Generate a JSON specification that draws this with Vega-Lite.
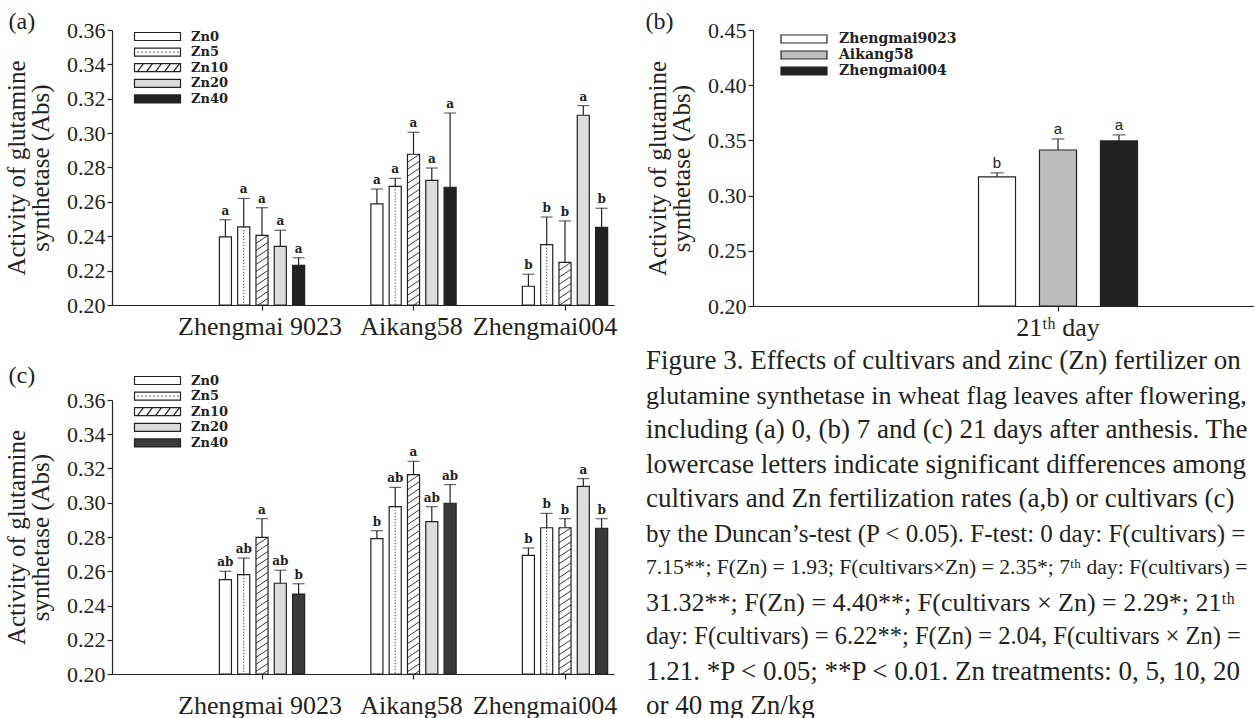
{
  "$schema": "https://vega.github.io/schema/vega-lite/v6.json",
  "background": "white",
  "padding": {"left": 4, "top": 10, "right": 0, "bottom": 0},
  "columns": 2,
  "bounds": "flush",
  "spacing": {"row": 94, "column": 139},
  "resolve": {"scale": {"fill": "independent", "x": "independent", "xOffset": "independent", "y": "independent"}, "legend": {"fill": "independent"}, "axis": {"x": "independent", "y": "independent"}},
  "datasets": {
    "a": [
      {"cultivar": "Zhengmai 9023", "zn": "Zn0", "value": 0.2396, "err": 0.2496, "sig": "a"},
      {"cultivar": "Zhengmai 9023", "zn": "Zn5", "value": 0.2455, "err": 0.262, "sig": "a"},
      {"cultivar": "Zhengmai 9023", "zn": "Zn10", "value": 0.2405, "err": 0.2566, "sig": "a"},
      {"cultivar": "Zhengmai 9023", "zn": "Zn20", "value": 0.2341, "err": 0.2435, "sig": "a"},
      {"cultivar": "Zhengmai 9023", "zn": "Zn40", "value": 0.2231, "err": 0.2275, "sig": "a"},
      {"cultivar": "Aikang58", "zn": "Zn0", "value": 0.2588, "err": 0.2675, "sig": "a"},
      {"cultivar": "Aikang58", "zn": "Zn5", "value": 0.269, "err": 0.2737, "sig": "a"},
      {"cultivar": "Aikang58", "zn": "Zn10", "value": 0.2877, "err": 0.3005, "sig": "a"},
      {"cultivar": "Aikang58", "zn": "Zn20", "value": 0.2725, "err": 0.2797, "sig": "a"},
      {"cultivar": "Aikang58", "zn": "Zn40", "value": 0.2685, "err": 0.3117, "sig": "a"},
      {"cultivar": "Zhengmai004", "zn": "Zn0", "value": 0.2109, "err": 0.2179, "sig": "b"},
      {"cultivar": "Zhengmai004", "zn": "Zn5", "value": 0.2351, "err": 0.2512, "sig": "b"},
      {"cultivar": "Zhengmai004", "zn": "Zn10", "value": 0.2248, "err": 0.2489, "sig": "b"},
      {"cultivar": "Zhengmai004", "zn": "Zn20", "value": 0.3104, "err": 0.316, "sig": "a"},
      {"cultivar": "Zhengmai004", "zn": "Zn40", "value": 0.2452, "err": 0.2563, "sig": "b"}
    ],
    "c": [
      {"cultivar": "Zhengmai 9023", "zn": "Zn0", "value": 0.2551, "err": 0.26, "sig": "ab"},
      {"cultivar": "Zhengmai 9023", "zn": "Zn5", "value": 0.258, "err": 0.2677, "sig": "ab"},
      {"cultivar": "Zhengmai 9023", "zn": "Zn10", "value": 0.2798, "err": 0.2907, "sig": "a"},
      {"cultivar": "Zhengmai 9023", "zn": "Zn20", "value": 0.253, "err": 0.2606, "sig": "ab"},
      {"cultivar": "Zhengmai 9023", "zn": "Zn40", "value": 0.2467, "err": 0.2527, "sig": "b"},
      {"cultivar": "Aikang58", "zn": "Zn0", "value": 0.279, "err": 0.2837, "sig": "b"},
      {"cultivar": "Aikang58", "zn": "Zn5", "value": 0.2977, "err": 0.309, "sig": "ab"},
      {"cultivar": "Aikang58", "zn": "Zn10", "value": 0.3164, "err": 0.3242, "sig": "a"},
      {"cultivar": "Aikang58", "zn": "Zn20", "value": 0.289, "err": 0.2977, "sig": "ab"},
      {"cultivar": "Aikang58", "zn": "Zn40", "value": 0.2997, "err": 0.3106, "sig": "ab"},
      {"cultivar": "Zhengmai004", "zn": "Zn0", "value": 0.2693, "err": 0.2736, "sig": "b"},
      {"cultivar": "Zhengmai004", "zn": "Zn5", "value": 0.2854, "err": 0.2938, "sig": "b"},
      {"cultivar": "Zhengmai004", "zn": "Zn10", "value": 0.2854, "err": 0.2907, "sig": "b"},
      {"cultivar": "Zhengmai004", "zn": "Zn20", "value": 0.3096, "err": 0.3141, "sig": "a"},
      {"cultivar": "Zhengmai004", "zn": "Zn40", "value": 0.2851, "err": 0.2907, "sig": "b"}
    ],
    "b": [
      {"day": "21ᵗʰ day", "cultivar": "Zhengmai9023", "value": 0.317, "err": 0.3206, "sig": "b"},
      {"day": "21ᵗʰ day", "cultivar": "Aikang58", "value": 0.3413, "err": 0.3513, "sig": "a"},
      {"day": "21ᵗʰ day", "cultivar": "Zhengmai004", "value": 0.3495, "err": 0.355, "sig": "a"}
    ],
    "cap": [
      {"line": 1, "text": "Figure 3. Effects of cultivars and zinc (Zn) fertilizer on"},
      {"line": 2, "text": "glutamine synthetase in wheat flag leaves after flowering,"},
      {"line": 3, "text": "including (a) 0, (b) 7 and (c) 21 days after anthesis. The"},
      {"line": 4, "text": "lowercase letters indicate significant differences among"},
      {"line": 5, "text": "cultivars and Zn fertilization rates (a,b) or cultivars (c)"},
      {"line": 6, "text": "by the Duncan’s-test (P < 0.05). F-test: 0 day: F(cultivars) ="},
      {"line": 7, "text": "7.15**; F(Zn) = 1.93; F(cultivars×Zn) = 2.35*; 7ᵗʰ day: F(cultivars) ="},
      {"line": 8, "text": "31.32**; F(Zn) = 4.40**; F(cultivars × Zn) = 2.29*; 21ᵗʰ"},
      {"line": 9, "text": "day: F(cultivars) = 6.22**; F(Zn) = 2.04, F(cultivars × Zn) ="},
      {"line": 10, "text": "1.21. *P < 0.05; **P < 0.01. Zn treatments: 0, 5, 10, 20"},
      {"line": 11, "text": "or 40 mg Zn/kg"}
    ]
  },
  "concat": [
    {
      "width": 502, "height": 275,
      "title": {"text": "(a)", "anchor": "start", "frame": "bounds", "font": "Liberation Serif", "fontSize": 24, "fontWeight": "normal", "color": "#222", "offset": -15, "dx": 4},
      "data": {"name": "a"},
      "encoding": {
        "x": {"field": "cultivar", "type": "nominal", "scale": {"domain": ["Zhengmai 9023", "Aikang58", "Zhengmai004"], "paddingInner": 0.396, "paddingOuter": 0.3548, "align": 0.9698}, "axis": {"title": null, "labelAngle": 0, "labelFontSize": 26, "labelPadding": 3, "tickSize": 5, "labelOverlap": false, "labelBound": false, "labelOffset": {"condition": {"test": "datum.value === 'Zhengmai004'", "value": -20}, "value": -2}}},
        "xOffset": {"field": "zn", "type": "nominal", "scale": {"domain": ["Zn0", "Zn5", "Zn10", "Zn20", "Zn40"], "paddingInner": 0.34, "paddingOuter": 0.17}},
        "y": {"field": "value", "type": "quantitative", "scale": {"domain": [0.2, 0.36], "nice": false, "zero": false}, "axis": {"title": ["Activity of glutamine", "synthetase (Abs)"], "titleFontSize": 25, "titleLineHeight": 24, "titlePadding": 13, "values": [0.2, 0.22, 0.24, 0.26, 0.28, 0.3, 0.32, 0.34, 0.36], "format": ".2f", "labelFontSize": 22, "tickSize": 5, "labelPadding": 2}}
      },
      "layer": [
        {"mark": {"type": "bar", "stroke": "#222", "strokeWidth": 1.2},
         "encoding": {"y2": {"datum": 0.2},
           "fill": {"field": "zn", "type": "nominal", "scale": {"domain": ["Zn0", "Zn5", "Zn10", "Zn20", "Zn40"], "range": ["#ffffff", "#ffffff", "#ffffff", "#dcdcdc", "#222222"]},
             "legend": {"title": null, "orient": "none", "legendX": 16, "legendY": 0, "symbolType": "M0,-4H46V4H0Z", "symbolSize": 4, "symbolStrokeColor": "#222", "symbolStrokeWidth": 1.2, "labelFont": "DejaVu Serif", "labelFontWeight": "bold", "labelFontSize": 13, "labelColor": "#222", "labelOffset": 50, "rowPadding": 1.6, "padding": 0,
               "encode": {"symbols": {"update": {"shape": [
                 {"test": "datum.value === 'Zn5'", "value": "M0,-4H46V4H0ZM3,0h1.2M7,0h1.2M11,0h1.2M15,0h1.2M19,0h1.2M23,0h1.2M27,0h1.2M31,0h1.2M35,0h1.2M39,0h1.2M43,0h1.2"},
                 {"test": "datum.value === 'Zn10'", "value": "M0,-4H46V4H0ZM3,4L9,-4M12,4L18,-4M21,4L27,-4M30,4L36,-4M39,4L45,-4"},
                 {"value": "M0,-4H46V4H0Z"}]}}}}}}},
        {"transform": [{"filter": "datum.zn === 'Zn5'"}], "mark": {"type": "rule", "color": "#333", "strokeWidth": 1, "strokeDash": [1.2, 1.8]}, "encoding": {"y2": {"datum": 0.2}}},
        {"transform": [{"filter": "datum.zn === 'Zn10'"}], "mark": {"type": "point", "shape": "M-6,1L-4.5,0M-6,8L6,0M-6,15L6,7M-6,22L6,14M-6,29L6,21M-6,36L6,28M-6,43L6,35M-6,50L6,42M-6,57L6,49M-6,64L6,56M-6,71L6,63M-6,78L6,70M-6,85L6,77M-6,92L6,84M-6,99L6,91M-6,106L6,98M-6,113L6,105M-6,120L6,112M-6,127L6,119M-6,134L6,126M-6,141L6,133M-6,148L6,140M-6,155L6,147M-6,162L6,154M-6,169L6,161M-6,176L6,168M-6,183L6,175M-6,190L6,182M-6,197L6,189M-6,204L6,196M-6,211L6,203M-6,218L6,210M-6,225L6,217M-6,232L6,224M-6,239L6,231M-6,246L6,238", "size": 4, "filled": false, "stroke": "#222", "strokeWidth": 0.9, "opacity": 1, "clip": true}, "encoding": {}},
        {"mark": {"type": "rule", "color": "#222", "strokeWidth": 1.2}, "encoding": {"y2": {"field": "err"}}},
        {"mark": {"type": "tick", "orient": "horizontal", "size": 12, "thickness": 1.2, "color": "#222"}, "encoding": {"y": {"field": "err", "type": "quantitative"}}},
        {"mark": {"type": "text", "baseline": "bottom", "dy": -2, "font": "DejaVu Serif", "fontWeight": "bold", "fontSize": 12, "color": "#222"}, "encoding": {"y": {"field": "err", "type": "quantitative"}, "text": {"field": "sig"}}}
      ]
    },
    {
      "width": 501, "height": 276,
      "title": {"text": "(b)", "anchor": "start", "frame": "bounds", "font": "Liberation Serif", "fontSize": 24, "fontWeight": "normal", "color": "#222", "offset": -15},
      "data": {"name": "b"},
      "encoding": {
        "x": {"field": "day", "type": "nominal", "scale": {"domain": ["21ᵗʰ day"], "paddingInner": 0, "paddingOuter": 0.8689, "align": 0.6714}, "axis": {"title": null, "labelAngle": 0, "labelFontSize": 26, "labelPadding": 3, "tickSize": 5}},
        "xOffset": {"field": "cultivar", "type": "nominal", "scale": {"domain": ["Zhengmai9023", "Aikang58", "Zhengmai004"], "paddingInner": 0.393, "paddingOuter": 0.1967}},
        "y": {"field": "value", "type": "quantitative", "scale": {"domain": [0.2, 0.45], "nice": false, "zero": false}, "axis": {"title": ["Activity of glutamine", "synthetase (Abs)"], "titleFontSize": 25, "titleLineHeight": 24, "titlePadding": 13, "values": [0.2, 0.25, 0.3, 0.35, 0.4, 0.45], "format": ".2f", "labelFontSize": 22, "tickSize": 5, "labelPadding": 2}}
      },
      "layer": [
        {"mark": {"type": "bar", "stroke": "#222", "strokeWidth": 1.2},
         "encoding": {"y2": {"datum": 0.2},
           "fill": {"field": "cultivar", "type": "nominal", "scale": {"domain": ["Zhengmai9023", "Aikang58", "Zhengmai004"], "range": ["#ffffff", "#bdbdbd", "#222222"]},
             "legend": {"title": null, "orient": "none", "legendX": 21, "legendY": 2, "symbolType": "M0,-4H46V4H0Z", "symbolSize": 4, "symbolStrokeColor": "#222", "symbolStrokeWidth": 1.2, "labelFont": "DejaVu Serif", "labelFontWeight": "bold", "labelFontSize": 14, "labelColor": "#222", "labelOffset": 51, "rowPadding": 2, "padding": 0,
               "encode": {"symbols": {"update": {"shape": {"value": "M0,-4H46V4H0Z"}}}}}}}},
        {"mark": {"type": "rule", "color": "#222", "strokeWidth": 1.2}, "encoding": {"y2": {"field": "err"}}},
        {"mark": {"type": "tick", "orient": "horizontal", "size": 13, "thickness": 1.2, "color": "#222"}, "encoding": {"y": {"field": "err", "type": "quantitative"}}},
        {"mark": {"type": "text", "baseline": "bottom", "dy": -2, "font": "Liberation Sans", "fontSize": 15, "color": "#222"}, "encoding": {"y": {"field": "err", "type": "quantitative"}, "text": {"field": "sig"}}}
      ]
    },
    {
      "width": 502, "height": 274,
      "title": {"text": "(c)", "anchor": "start", "frame": "bounds", "font": "Liberation Serif", "fontSize": 24, "fontWeight": "normal", "color": "#222", "offset": -14, "dx": 4},
      "data": {"name": "c"},
      "encoding": {
        "x": {"field": "cultivar", "type": "nominal", "scale": {"domain": ["Zhengmai 9023", "Aikang58", "Zhengmai004"], "paddingInner": 0.396, "paddingOuter": 0.3548, "align": 0.9698}, "axis": {"title": null, "labelAngle": 0, "labelFontSize": 26, "labelPadding": 13, "tickSize": 5, "labelOverlap": false, "labelBound": false, "labelOffset": {"condition": {"test": "datum.value === 'Zhengmai004'", "value": -20}, "value": -2}}},
        "xOffset": {"field": "zn", "type": "nominal", "scale": {"domain": ["Zn0", "Zn5", "Zn10", "Zn20", "Zn40"], "paddingInner": 0.34, "paddingOuter": 0.17}},
        "y": {"field": "value", "type": "quantitative", "scale": {"domain": [0.2, 0.36], "nice": false, "zero": false}, "axis": {"title": ["Activity of glutamine", "synthetase (Abs)"], "titleFontSize": 25, "titleLineHeight": 24, "titlePadding": 13, "values": [0.2, 0.22, 0.24, 0.26, 0.28, 0.3, 0.32, 0.34, 0.36], "format": ".2f", "labelFontSize": 22, "tickSize": 5, "labelPadding": 2}}
      },
      "layer": [
        {"mark": {"type": "bar", "stroke": "#222", "strokeWidth": 1.2},
         "encoding": {"y2": {"datum": 0.2},
           "fill": {"field": "zn", "type": "nominal", "scale": {"domain": ["Zn0", "Zn5", "Zn10", "Zn20", "Zn40"], "range": ["#ffffff", "#ffffff", "#ffffff", "#dcdcdc", "#3a3a3a"]},
             "legend": {"title": null, "orient": "none", "legendX": 16, "legendY": -26, "symbolType": "M0,-4H46V4H0Z", "symbolSize": 4, "symbolStrokeColor": "#222", "symbolStrokeWidth": 1.2, "labelFont": "DejaVu Serif", "labelFontWeight": "bold", "labelFontSize": 13, "labelColor": "#222", "labelOffset": 50, "rowPadding": 1.6, "padding": 0,
               "encode": {"symbols": {"update": {"shape": [
                 {"test": "datum.value === 'Zn5'", "value": "M0,-4H46V4H0ZM3,0h1.2M7,0h1.2M11,0h1.2M15,0h1.2M19,0h1.2M23,0h1.2M27,0h1.2M31,0h1.2M35,0h1.2M39,0h1.2M43,0h1.2"},
                 {"test": "datum.value === 'Zn10'", "value": "M0,-4H46V4H0ZM3,4L9,-4M12,4L18,-4M21,4L27,-4M30,4L36,-4M39,4L45,-4"},
                 {"value": "M0,-4H46V4H0Z"}]}}}}}}},
        {"transform": [{"filter": "datum.zn === 'Zn5'"}], "mark": {"type": "rule", "color": "#333", "strokeWidth": 1, "strokeDash": [1.2, 1.8]}, "encoding": {"y2": {"datum": 0.2}}},
        {"transform": [{"filter": "datum.zn === 'Zn10'"}], "mark": {"type": "point", "shape": "M-6,1L-4.5,0M-6,8L6,0M-6,15L6,7M-6,22L6,14M-6,29L6,21M-6,36L6,28M-6,43L6,35M-6,50L6,42M-6,57L6,49M-6,64L6,56M-6,71L6,63M-6,78L6,70M-6,85L6,77M-6,92L6,84M-6,99L6,91M-6,106L6,98M-6,113L6,105M-6,120L6,112M-6,127L6,119M-6,134L6,126M-6,141L6,133M-6,148L6,140M-6,155L6,147M-6,162L6,154M-6,169L6,161M-6,176L6,168M-6,183L6,175M-6,190L6,182M-6,197L6,189M-6,204L6,196M-6,211L6,203M-6,218L6,210M-6,225L6,217M-6,232L6,224M-6,239L6,231M-6,246L6,238", "size": 4, "filled": false, "stroke": "#222", "strokeWidth": 0.9, "opacity": 1, "clip": true}, "encoding": {}},
        {"mark": {"type": "rule", "color": "#222", "strokeWidth": 1.2}, "encoding": {"y2": {"field": "err"}}},
        {"mark": {"type": "tick", "orient": "horizontal", "size": 12, "thickness": 1.2, "color": "#222"}, "encoding": {"y": {"field": "err", "type": "quantitative"}}},
        {"mark": {"type": "text", "baseline": "bottom", "dy": -2, "font": "DejaVu Serif", "fontWeight": "bold", "fontSize": 12, "color": "#222"}, "encoding": {"y": {"field": "err", "type": "quantitative"}, "text": {"field": "sig"}}}
      ]
    },
    {
      "width": 501, "height": 274,
      "data": {"name": "cap"},
      "mark": {"type": "text", "align": "left", "baseline": "middle", "font": "Liberation Serif", "color": "#222"},
      "encoding": {
        "x": {"datum": 0, "type": "quantitative", "scale": {"domain": [0, 1], "range": [-107, 394]}, "axis": null},
        "y": {"field": "line", "type": "ordinal", "scale": {"range": [-56.25, 323.25], "paddingInner": 0, "paddingOuter": 0}, "axis": null},
        "size": {"condition": [
          {"test": "datum.line === 7", "value": 21.6},
          {"test": "datum.line === 9", "value": 24.5},
          {"test": "datum.line === 6", "value": 25},
          {"test": "datum.line === 8 || datum.line === 2", "value": 26}], "value": 27},
        "text": {"field": "text"}
      }
    }
  ],
  "config": {
    "view": {"stroke": null},
    "font": "Liberation Serif",
    "axis": {"domainColor": "#222", "tickColor": "#222", "labelColor": "#222", "titleColor": "#222", "domainWidth": 1.2, "tickWidth": 1.2, "grid": false, "labelFont": "Liberation Serif", "titleFont": "Liberation Serif", "titleFontWeight": "normal"},
    "legend": {"padding": 0}
  }
}
